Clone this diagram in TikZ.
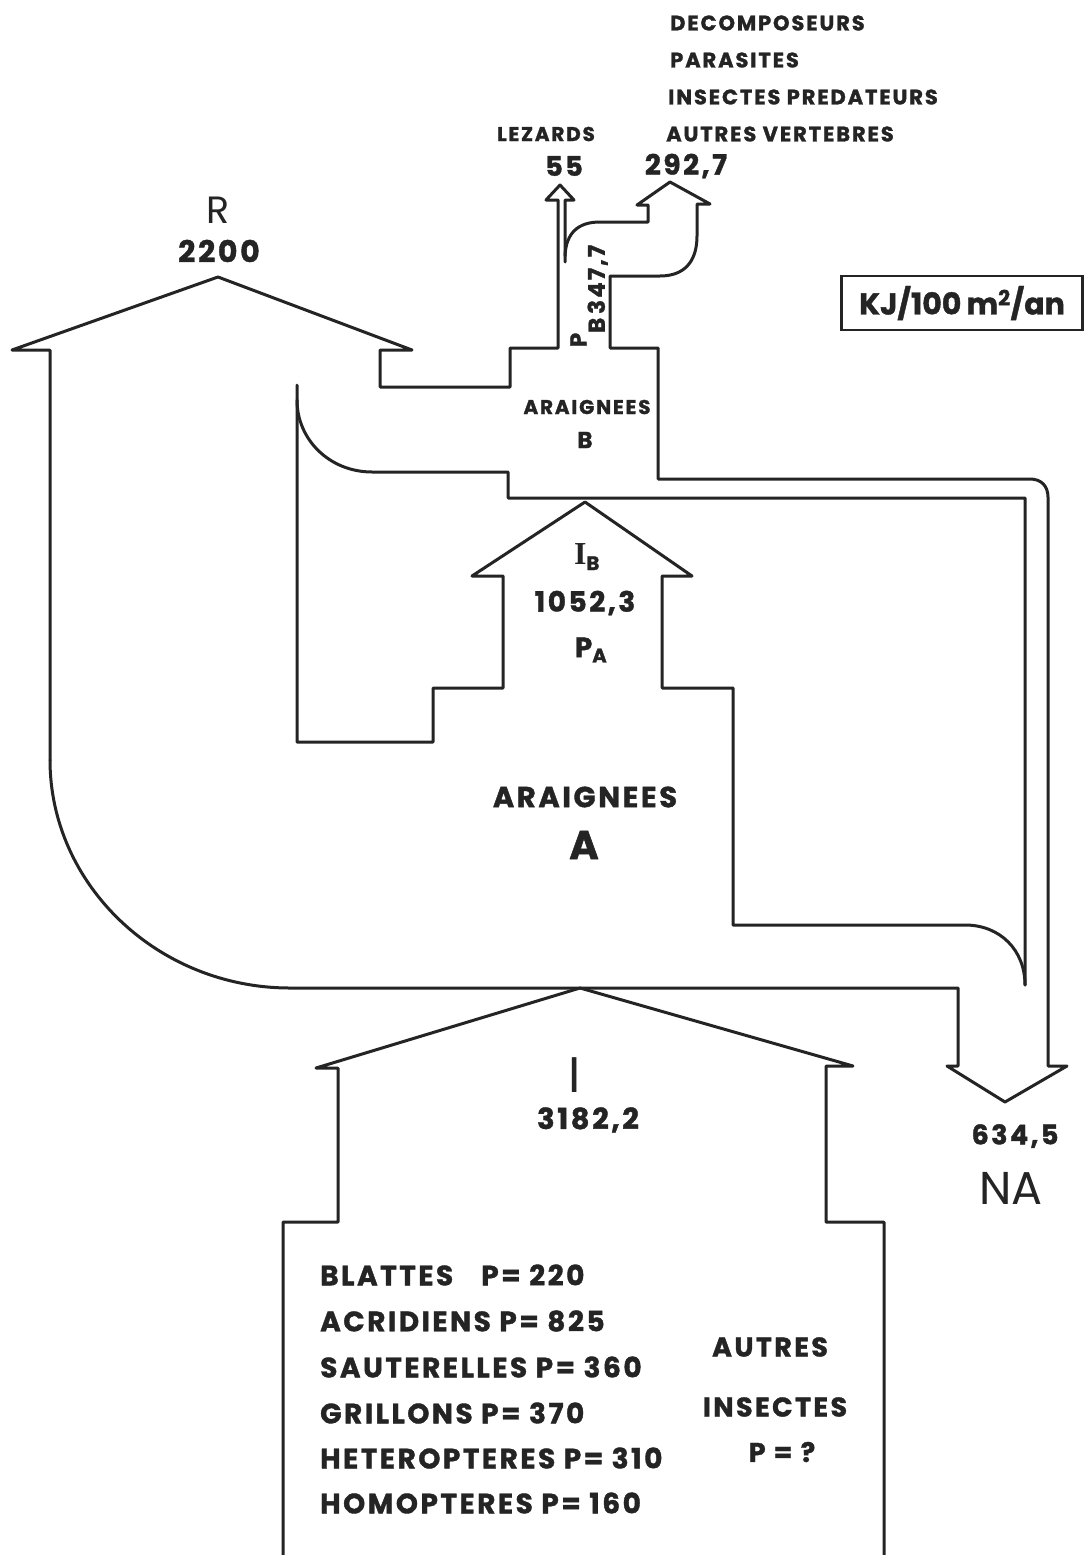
\documentclass[tikz,border=0pt]{standalone}
\usepackage{fontspec}
\setsansfont{Poppins}[LetterSpace=9, BoldFeatures={FakeBold=1.3}]
\newfontfamily\numfont{Poppins}[BoldFeatures={FakeBold=1.3}]
\newfontfamily\serifI{Liberation Serif}
\usetikzlibrary{positioning}
\definecolor{ink}{HTML}{242424}

\tikzset{
  outline/.style={draw=ink, line width=3pt, line join=round, line cap=round},
  caps/.style={text=ink, inner sep=0pt, font=\sffamily\bfseries\fontsize{#1}{#1}\selectfont},
  thin/.style={text=ink, inner sep=0pt, font=\numfont\fontsize{#1}{#1}\selectfont},
}

\begin{document}
\begin{tikzpicture}[x=1pt, y=-1pt]
\useasboundingbox[fill=white] (0,0) rectangle (1084,1555);

% R arrow, araignees B and the lizard stem
\draw[outline] (50,760) -- (50,350) -- (12,350) -- (218,277) -- (412,350) -- (380,350)
  -- (380,387) -- (510,387) -- (510,348) -- (558,348) -- (558,200) -- (546,200)
  -- (560,185) -- (574,200) -- (565,200) -- (565,262);
% 292,7 branch and outer NA flow
\draw[outline] (565,256) .. controls (566,233) and (578,222) .. (600,222) -- (648,222)
  -- (648,205) -- (637,205) -- (670,182) -- (710,204) -- (697,204) -- (697,236)
  .. controls (697,262) and (684,276) .. (660,276) -- (610,276) -- (610,348) -- (658,348)
  -- (658,479) -- (1030,479) .. controls (1041,479) and (1048,486) .. (1048,497)
  -- (1048,1066) -- (1067,1066) -- (1005,1102) -- (947,1066) -- (958,1066) -- (958,988)
  -- (290,988) .. controls (158,988) and (50,885) .. (50,760);
% araignees A, steps and I_B arrow
\draw[outline] (297,385) -- (297,742) -- (433,742) -- (433,688) -- (503,688) -- (503,576)
  -- (472,576) -- (585,502) -- (692,576) -- (662,576) -- (662,688) -- (733,688)
  -- (733,925) -- (965,925) .. controls (1000,925) and (1025,950) .. (1025,985);
\draw[outline] (297,400) .. controls (297,440) and (330,472) .. (372,472) -- (508,472)
  -- (508,498) -- (1025,498) -- (1025,985);
% ingestion I
\draw[outline] (283,1555) -- (283,1222) -- (338,1222) -- (338,1068) -- (316,1068)
  -- (580,988) -- (853,1066) -- (826,1066) -- (826,1222) -- (884,1222) -- (884,1555);

% labels
\node[thin=38] (R) at (218,210) {R};
\node[caps=30] (rval) at (219,251) {2200};
\node[caps=20] (lez) at (546,134) {LEZARDS};
\node[caps=27] (lezval) at (564,166) {55};
\node[caps=28] (decval) at (686,166) {292,7};
\node[caps=21, anchor=west] (dec1) at (670,23) {DECOMPOSEURS};
\node[caps=21, anchor=west] (dec2) at (670,60) {PARASITES};
\node[caps=21, anchor=west] (dec3) at (668,97) {INSECTES PREDATEURS};
\node[caps=21, anchor=west] (dec4) at (666,134) {AUTRES VERTEBRES};
\node[caps=23, rotate=90] (pb) at (589,296) {\raisebox{0.8em}{P}B\,347,7};
\node[draw=ink, line width=2.4pt, minimum width=241pt, minimum height=54pt,
  thin=30, font=\numfont\bfseries\fontsize{30}{30}\selectfont] (unit) at (962,303)
  {KJ/100\,m\textsuperscript{2}/an};

\node[caps=20] (araB) at (587,407) {ARAIGNEES};
\node[caps=23] (B) at (585,440) {B};
\node[caps=28] (ib) at (587,557) {{\serifI\bfseries\fontsize{32}{32}\selectfont I}\textsubscript{B}};
\node[caps=28] (pa) at (585,603) {1052,3};
\node[caps=28] (pav) at (591,650) {P\textsubscript{A}};
\node[caps=29] (araA) at (585,797) {ARAIGNEES};
\node[caps=40] (A) at (584,845) {A};

\node[thin=50] (I) at (575,1075) {I};
\node[caps=29] (ival) at (588,1120) {3182,2};
\node[caps=27] (naval) at (1015,1136) {634,5};
\node[thin=46] (NA) at (1011,1188) {NA};

\node[caps=28, anchor=west] (blat) at (320,1275) {BLATTES\quad P= 220};
\node[caps=28, anchor=west] (acri) at (320,1321) {ACRIDIENS P= 825};
\node[caps=28, anchor=west] (saut) at (320,1367) {SAUTERELLES P= 360};
\node[caps=28, anchor=west] (gril) at (320,1413) {GRILLONS P= 370};
\node[caps=28, anchor=west] (hete) at (320,1458) {HETEROPTERES P= 310};
\node[caps=28, anchor=west] (homo) at (320,1503) {HOMOPTERES P= 160};
\node[caps=27] (aut1) at (770,1347) {AUTRES};
\node[caps=27] (aut2) at (775,1407) {INSECTES};
\node[caps=27] (aut3) at (782,1452) {P = ?};
\end{tikzpicture}
\end{document}
